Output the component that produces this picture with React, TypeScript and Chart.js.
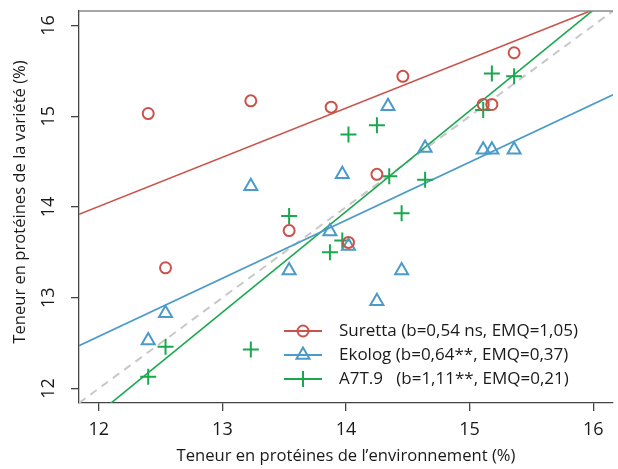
import { useEffect, useRef } from 'react';
import { Chart, registerables } from 'chart.js';

Chart.register(...registerables);

// Environments (x) and variety protein contents (y)
const surettaX = [12.40, 12.54, 13.23, 13.54, 13.88, 14.02, 14.25, 14.46, 15.11, 15.18, 15.36];
const surettaY = [15.03, 13.33, 15.17, 13.74, 15.10, 13.61, 14.36, 15.44, 15.13, 15.13, 15.70];
const ekologX = [12.40, 12.54, 13.23, 13.54, 13.87, 13.97, 14.02, 14.25, 14.34, 14.45, 14.64, 15.11, 15.18, 15.36];
const ekologY = [12.53, 12.83, 14.23, 13.30, 13.73, 14.36, 13.57, 12.96, 15.11, 13.30, 14.65, 14.63, 14.63, 14.63];
const a7X = [12.40, 12.54, 13.23, 13.54, 13.87, 13.97, 14.02, 14.25, 14.35, 14.45, 14.64, 15.11, 15.18, 15.36];
const a7Y = [12.13, 12.46, 12.43, 13.90, 13.50, 13.63, 14.80, 14.90, 14.34, 13.93, 14.30, 15.07, 15.47, 15.44];

// Regression lines (endpoints at the axis limits)
const fitX = [11.84, 16.16];
const surettaFitY = [13.92, 16.26];
const ekologFitY = [12.472, 15.237];
const a7FitY = [11.552, 16.347];
const identityY = [11.84, 16.16];

const xTicks = [12, 13, 14, 15, 16];
const yTicks = [12, 13, 14, 15, 16];
const axisMin = 11.84;
const axisMax = 16.16;

const legendLabels = [
  'Suretta (b=0,54 ns, EMQ=1,05)',
  'Ekolog (b=0,64**, EMQ=0,37)',
  'A7T.9   (b=1,11**, EMQ=0,21)',
];

const RED = '#c9534b';
const BLUE = '#4b9bc8';
const GREEN = '#1aa84f';
const TEXT = '#1a1a1a';
const AXIS = '#444444';
const TICK_FONT = '"Open Sans", sans-serif';
const TEXT_FONT = '"Open Sans", sans-serif';

const pts = (xs: number[], ys: number[]) => xs.map((x, i) => ({ x, y: ys[i] }));

function drawMarker(ctx: CanvasRenderingContext2D, style: string, x: number, y: number, r: number) {
  ctx.beginPath();
  if (style === 'circle') {
    ctx.arc(x, y, r, 0, Math.PI * 2);
  } else if (style === 'triangle') {
    ctx.moveTo(x, y - r);
    ctx.lineTo(x + r * Math.sin((2 * Math.PI) / 3), y - r * Math.cos((2 * Math.PI) / 3));
    ctx.lineTo(x - r * Math.sin((2 * Math.PI) / 3), y - r * Math.cos((2 * Math.PI) / 3));
    ctx.closePath();
  } else {
    ctx.moveTo(x - r, y);
    ctx.lineTo(x + r, y);
    ctx.moveTo(x, y - r);
    ctx.lineTo(x, y + r);
  }
  ctx.stroke();
}

const decorPlugin = {
  id: 'decor',
  afterDraw(chart: any) {
    const ctx = chart.ctx as CanvasRenderingContext2D;
    const { left, right, top, bottom } = chart.chartArea;
    ctx.save();
    // top frame line
    ctx.strokeStyle = '#8a8a8a';
    ctx.lineWidth = 1.3;
    ctx.beginPath();
    ctx.moveTo(left, top);
    ctx.lineTo(right, top);
    ctx.stroke();

    // rotated y tick labels
    const ys = chart.scales.y;
    ctx.fillStyle = TEXT;
    ctx.font = `18px ${TICK_FONT}`;
    ctx.textAlign = 'center';
    ctx.textBaseline = 'middle';
    ys.ticks.forEach((t: any) => {
      const py = ys.getPixelForValue(t.value);
      ctx.save();
      ctx.translate(left - 30, py);
      ctx.rotate(-Math.PI / 2);
      ctx.fillText(String(t.value), 0, 0);
      ctx.restore();
    });

    // y axis title
    ctx.font = `16.6px ${TEXT_FONT}`;
    ctx.save();
    ctx.translate(20, (top + bottom) / 2 - 5);
    ctx.rotate(-Math.PI / 2);
    ctx.fillText('Teneur en protéines de la variété (%)', 0, 0);
    ctx.restore();

    // legend
    const colors = [RED, BLUE, GREEN];
    const styles = ['circle', 'triangle', 'cross'];
    const radii = [5.5, 7.5, 8];
    const x0 = left + 205;
    const y0 = top + 320;
    ctx.font = `17px ${TEXT_FONT}`;
    ctx.textAlign = 'left';
    legendLabels.forEach((lab, i) => {
      const y = y0 + i * 24;
      ctx.strokeStyle = colors[i];
      ctx.lineWidth = 1.8;
      ctx.beginPath();
      ctx.moveTo(x0, y);
      ctx.lineTo(x0 + 38, y);
      ctx.stroke();
      ctx.lineWidth = 2;
      drawMarker(ctx, styles[i], x0 + 19, y, radii[i]);
      ctx.fillStyle = TEXT;
      ctx.fillText(lab, x0 + 55, y);
    });
    ctx.restore();
  },
};

export default function App() {
  const ref = useRef<HTMLCanvasElement | null>(null);

  useEffect(() => {
    document.body.style.margin = '0';
    const canvas = ref.current;
    if (!canvas) return;
    const scatterPts = (color: string, style: string, r: number) => ({
      showLine: false,
      pointStyle: style,
      pointRadius: r,
      pointHoverRadius: r,
      pointBorderWidth: 2,
      pointBorderColor: color,
      pointBackgroundColor: 'rgba(0,0,0,0)',
      borderColor: color,
    });
    const lineDs = (color: string, ys: number[], dash: number[] = [], width = 1.6) => ({
      data: pts(fitX, ys),
      showLine: true,
      pointRadius: 0,
      borderColor: color,
      borderWidth: width,
      borderDash: dash,
      fill: false,
    });
    const chart = new Chart(canvas, {
      type: 'scatter',
      data: {
        datasets: [
          { label: 'Suretta', data: pts(surettaX, surettaY), ...scatterPts(RED, 'circle', 5.5) },
          { label: 'Ekolog', data: pts(ekologX, ekologY), ...scatterPts(BLUE, 'triangle', 7.5) },
          { label: 'A7T.9', data: pts(a7X, a7Y), ...scatterPts(GREEN, 'cross', 8) },
          { label: 'fitS', ...lineDs(RED, surettaFitY) },
          { label: 'fitE', ...lineDs(BLUE, ekologFitY) },
          { label: 'fitA', ...lineDs(GREEN, a7FitY) },
          { label: '1:1', ...lineDs('#c8c8c8', identityY, [8, 6], 2) },
        ] as any,
      },
      options: {
        responsive: false,
        animation: false,
        events: [],
        layout: { padding: { top: 11, left: 0, right: 0, bottom: 0 } },
        plugins: { legend: { display: false }, tooltip: { enabled: false } },
        scales: {
          x: {
            type: 'linear',
            position: 'bottom',
            min: axisMin,
            max: axisMax,
            afterBuildTicks: (s: any) => {
              s.ticks = xTicks.map((v) => ({ value: v }));
            },
            afterFit: (s: any) => {
              s.height = 66;
            },
            grid: { drawOnChartArea: false, drawTicks: true, tickLength: 8, color: AXIS, lineWidth: 1.3 },
            border: { display: true, color: AXIS, width: 1.3 },
            ticks: { color: TEXT, font: { family: TICK_FONT, size: 18 }, padding: 8, maxRotation: 0 },
            title: {
              display: true,
              text: 'Teneur en protéines de l’environnement (%)',
              color: TEXT,
              font: { family: TEXT_FONT, size: 16.6 },
              padding: { top: 0, bottom: 3 },
            },
          },
          y: {
            type: 'linear',
            position: 'left',
            min: axisMin,
            max: axisMax,
            afterBuildTicks: (s: any) => {
              s.ticks = yTicks.map((v) => ({ value: v }));
            },
            afterFit: (s: any) => {
              s.width = 79;
            },
            grid: { drawOnChartArea: false, drawTicks: true, tickLength: 8, color: AXIS, lineWidth: 1.3 },
            border: { display: true, color: AXIS, width: 1.3 },
            ticks: { display: false },
            title: { display: false },
          },
        },
      },
      plugins: [decorPlugin],
    } as any);
    return () => chart.destroy();
  }, []);

  return (
    <div style={{ width: 618, height: 469, overflow: 'hidden', position: 'relative' }}>
      <canvas ref={ref} width={623} height={469} style={{ display: 'block' }} />
    </div>
  );
}
